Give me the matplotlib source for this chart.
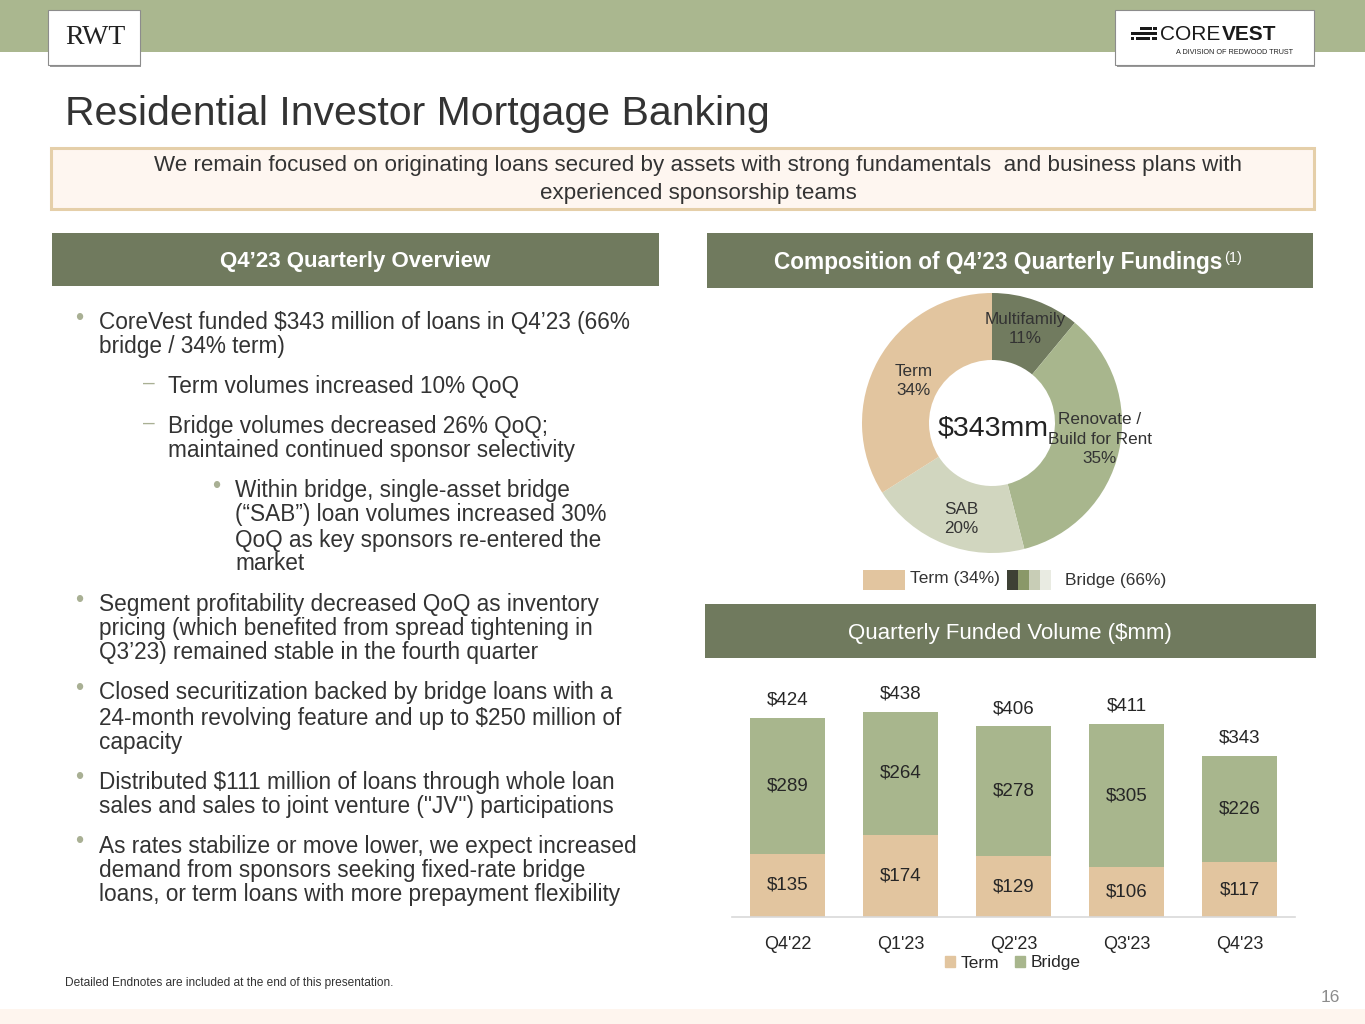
import matplotlib
matplotlib.use("Agg")
import matplotlib.pyplot as plt
from matplotlib.patches import Rectangle, Patch

plt.rcParams['font.family'] = ['Liberation Sans', 'DejaVu Sans']

# ---------------- data ----------------
quarters = ["Q4'22", "Q1'23", "Q2'23", "Q3'23", "Q4'23"]
term_vol = [135, 174, 129, 106, 117]
bridge_vol = [289, 264, 278, 305, 226]
total_vol = [424, 438, 406, 411, 343]

donut_names = ["Multifamily", "Renovate /\nBuild for Rent", "SAB", "Term"]
donut_shares = [11, 35, 20, 34]
donut_total = "$343mm"

# ---------------- styles ----------------
BAND = "#AAB78F"
HEADER = "#707A5E"
TAN = "#E2C59F"
GREEN = "#A8B68D"
MF = "#717B5F"
SAB = "#D1D6BF"
TXT = "#333333"
BUL = "#A9B094"

W, H = 1365, 1024
fig = plt.figure(figsize=(W / 100, H / 100), dpi=100)
bg = fig.add_axes([0, 0, 1, 1])
bg.set_xlim(0, W)
bg.set_ylim(H, 0)
bg.axis("off")
renderer = fig.canvas.get_renderer()


def rect(x0, y0, x1, y1, fc, ec="none", lw=0, z=1):
    bg.add_patch(Rectangle((x0, y0), x1 - x0, y1 - y0, facecolor=fc,
                           edgecolor=ec, linewidth=lw, zorder=z))


def txt(x, y, s, size, color=TXT, ha="left", va="center", **kw):
    return bg.text(x, y, s, fontsize=size, color=color, ha=ha, va=va, **kw)


def right_edge(t):
    bb = t.get_window_extent(renderer=renderer)
    return bb.x1  # pixels == data x in bg


# top band and bottom band
rect(0, 0, W, 52, BAND)
rect(0, 1009, W, H, "#FEF5EE")

# RWT logo
rect(50, 12, 141, 67, "#9a9a9a", z=2)
rect(48, 10, 140, 65, "white", ec="#8c8c8c", lw=0.8, z=3)
txt(95, 38, "RWT", 20, color="#222222", ha="center",
    family=["Liberation Serif", "DejaVu Serif"], zorder=4)

# CoreVest logo
rect(1117, 12, 1315, 67, "#9a9a9a", z=2)
rect(1115, 10, 1314, 65, "white", ec="#8c8c8c", lw=0.8, z=3)
for (x0, y0, x1, y1) in [(1140, 27, 1152, 30), (1131, 32, 1157, 35),
                         (1136, 37, 1150, 40), (1153, 27, 1157, 30),
                         (1131, 37, 1134, 40), (1152, 37, 1157, 40)]:
    rect(x0, y0, x1, y1, "#1a1a1a", z=4)
t1 = txt(1160, 34, "CORE", 15, color="#1a1a1a", zorder=4)
txt(right_edge(t1) + 1, 34, "VEST", 15, color="#1a1a1a", fontweight="bold", zorder=4)
txt(1293, 53, "A DIVISION OF REDWOOD TRUST", 5.2, color="#222222",
    ha="right", zorder=4)

# Title
txt(65, 114, "Residential Investor Mortgage Banking", 29.5, color="#333333")

# Callout box
rect(51, 148, 1314, 209, "#FEF6F0", ec="#E5CFA9", lw=2.2)
txt(698, 166, "We remain focused on originating loans secured by assets with strong fundamentals  and business plans with",
    16.1, ha="center")
txt(698, 193, "experienced sponsorship teams", 16.1, ha="center")

# Section headers
rect(52, 233, 659, 286, HEADER)
txt(355, 261, "Q4\u201923 Quarterly Overview", 16, color="white", ha="center",
    fontweight="bold")
rect(707, 233, 1313, 288, HEADER)
main = txt(774, 263, "Composition of Q4\u201923 Quarterly Fundings", 16.3,
           color="white", fontweight="bold")
txt(right_edge(main) + 2, 258, "(1)", 10.5, color="white")
rect(705, 604, 1316, 658, HEADER)
txt(1010, 633, "Quarterly Funded Volume ($mm)", 16, color="white", ha="center")

# Bullet text (left column)
FS = 16.3
lines = [
    (1, 323, "CoreVest funded $343 million of loans in Q4\u201923 (66%"),
    (0, 347, "bridge / 34% term)"),
    (2, 386, "Term volumes increased 10% QoQ"),
    (2, 426, "Bridge volumes decreased 26% QoQ;"),
    (0, 450, "maintained continued sponsor selectivity"),
    (3, 491, "Within bridge, single-asset bridge"),
    (0, 515, "(\u201cSAB\u201d) loan volumes increased 30%"),
    (0, 540, "QoQ as key sponsors re-entered the"),
    (0, 564, "market"),
    (1, 605, "Segment profitability decreased QoQ as inventory"),
    (0, 629, "pricing (which benefited from spread tightening in"),
    (0, 653, "Q3\u201923) remained stable in the fourth quarter"),
    (1, 693, "Closed securitization backed by bridge loans with a"),
    (0, 718, "24-month revolving feature and up to $250 million of"),
    (0, 742, "capacity"),
    (1, 782, "Distributed $111 million of loans through whole loan"),
    (0, 806, "sales and sales to joint venture (\"JV\") participations"),
    (1, 846, "As rates stabilize or move lower, we expect increased"),
    (0, 870, "demand from sponsors seeking fixed-rate bridge"),
    (0, 895, "loans, or term loans with more prepayment flexibility"),
]
level = 1
for kind, y, s in lines:
    if kind == 1:
        level = 1
        txt(79, y - 4, "\u2022", 17, color=BUL, ha="center")
    elif kind == 2:
        level = 2
        txt(149, y - 3, "\u2013", 15, color=BUL, ha="center")
    elif kind == 3:
        level = 3
        txt(216, y - 4, "\u2022", 17, color=BUL, ha="center")
    x = {1: 99, 2: 168, 3: 235}[level]
    txt(x, y, s, FS)

# Footer
txt(65, 983, "Detailed Endnotes are included at the end of this presentation.", 8.6)
txt(1340, 998, "16", 12.5, color="#8c8c8c", ha="right")

# ---------------- donut ----------------
cx, cy, half = 992, 423, 135
dax = fig.add_axes([(cx - half) / W, 1 - (cy + half) / H, 2 * half / W, 2 * half / H])
dax.pie(donut_shares, colors=[MF, GREEN, SAB, TAN], startangle=90,
        counterclock=False, radius=130,
        wedgeprops=dict(width=67, linewidth=0))
dax.set_xlim(-half, half)
dax.set_ylim(-half, half)
dax.axis("off")
label_pos = [(33, 94), (108, -16), (-31, -96), (-78, 42)]
for (lx, ly), name, share in zip(label_pos, donut_names, donut_shares):
    dax.text(lx, ly, f"{name}\n{share}%", ha="center", va="center",
             fontsize=12.3, color="#333333", linespacing=1.4)
dax.text(1, -5, donut_total, ha="center", va="center", fontsize=20.5, color="#222222")

# donut legend
rect(863, 570, 905, 590, TAN)
txt(910, 579, "Term (34%)", 12.5)
for i, c in enumerate(["#3E4135", "#8A9868", "#C8CDB6", "#E9EBE2"]):
    rect(1007 + 11 * i, 570, 1018 + 11 * i, 590, c)
txt(1065, 580, "Bridge (66%)", 12.5)

# ---------------- bar chart ----------------
x0p, x1p = 732, 1295
base_y, top_y = 917, 680
scale = 0.469
bax = fig.add_axes([x0p / W, 1 - base_y / H, (x1p - x0p) / W, (base_y - top_y) / H])
bax.set_xlim(-0.49, 4.49)
bax.set_ylim(0, (base_y - top_y) / scale)
pos = list(range(len(quarters)))
bax.bar(pos, term_vol, width=0.66, color=TAN, label="Term", zorder=2)
bax.bar(pos, bridge_vol, width=0.66, bottom=term_vol, color=GREEN,
        label="Bridge", zorder=2)
for i in pos:
    bax.text(i, term_vol[i] / 2, f"${term_vol[i]}", ha="center", va="center",
             fontsize=13.5, color="#262626")
    bax.text(i, term_vol[i] + bridge_vol[i] / 2, f"${bridge_vol[i]}",
             ha="center", va="center", fontsize=13.5, color="#262626")
    bax.annotate(f"${total_vol[i]}", (i, total_vol[i]), xytext=(0, 13),
                 textcoords="offset points", ha="center", va="center",
                 fontsize=13.5, color="#262626")
bax.set_xticks(pos)
bax.set_xticklabels(quarters, fontsize=13, color="#262626")
bax.tick_params(axis="x", length=0, pad=14)
bax.set_yticks([])
for s in ["top", "right", "left"]:
    bax.spines[s].set_visible(False)
bax.spines["bottom"].set_color("#D9D9D9")
bax.spines["bottom"].set_linewidth(1.2)
bax.patch.set_alpha(0)
bax.legend(handles=[Patch(color=TAN, label="Term"), Patch(color=GREEN, label="Bridge")],
           loc="center", bbox_to_anchor=(1013 / W, 1 - 963 / H),
           bbox_transform=fig.transFigure, ncol=2, frameon=False, fontsize=12.5,
           handlelength=0.55, handleheight=0.55, handletextpad=0.35,
           columnspacing=0.9, labelcolor="#262626")

fig.savefig("out.png", dpi=100)
